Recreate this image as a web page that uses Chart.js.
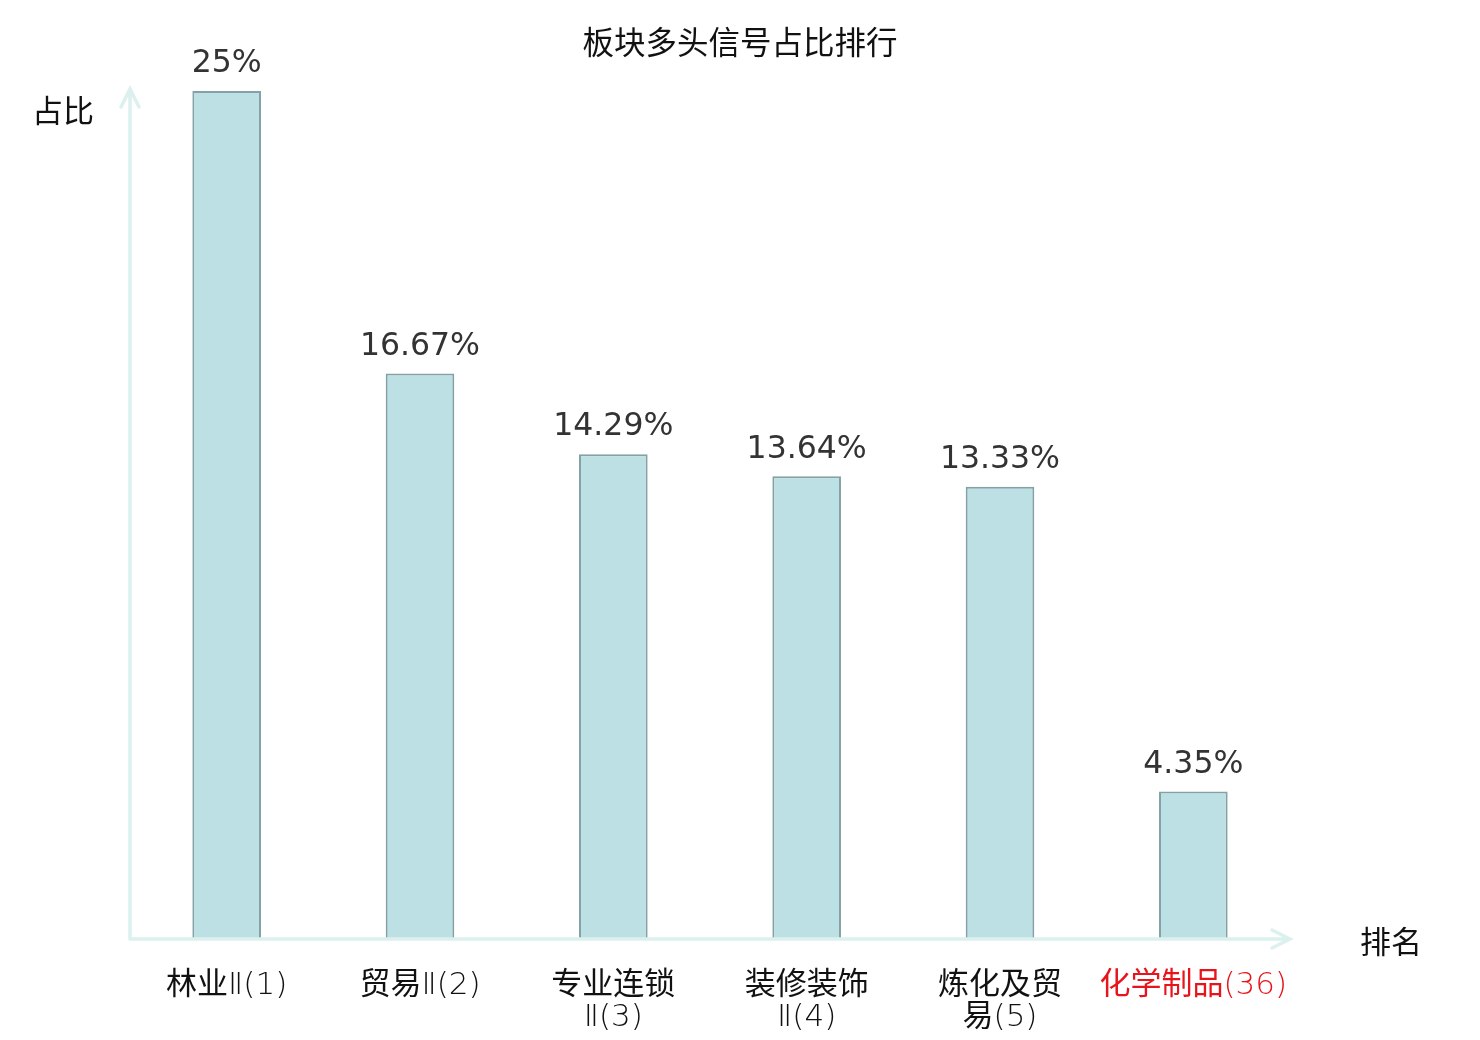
<!DOCTYPE html>
<html>
<head>
<meta charset="utf-8">
<script src="https://cdn.jsdelivr.net/npm/chart.js@4"></script>
<style>
	html, body { margin: 0; padding: 0; background: #fff; }
	#wrap { width: 1480px; height: 1040px; }
</style>
</head>
<body>
<div id="wrap"><canvas id="myChart" width="1480" height="1040"></canvas></div>
<script>
// ----------------------- data ----------------------------
var categories = [
	['林业Ⅱ(1)'],
	['贸易Ⅱ(2)'],
	['专业连锁', 'Ⅱ(3)'],
	['装修装饰', 'Ⅱ(4)'],
	['炼化及贸', '易(5)'],
	['化学制品(36)']
];
var values = [25, 16.67, 14.29, 13.64, 13.33, 4.35];
var valueLabels = ['25%', '16.67%', '14.29%', '13.64%', '13.33%', '4.35%'];
var highlightIndex = 5;

var cjk = '"Noto Sans CJK SC", "Noto Sans", sans-serif';
var latinLight = '200 31px "DejaVu Sans", sans-serif';
var cjkLabel = '31px ' + cjk;
var axisColor = '#dcf1ee';

// split a label into cjk / latin runs so each gets its own font
function runs(text){
	var out = [];
	for (var k = 0; k < text.length; k++) {
		var ch = text[k];
		var isCjk = /[\u4e00-\u9fff]/.test(ch);
		var last = out[out.length - 1];
		if (last && last.cjk === isCjk) last.t += ch;
		else out.push({ t: ch, cjk: isCjk });
	}
	return out;
}

function drawMixed(ctx, text, cx, baseline){
	var parts = runs(text);
	var total = 0;
	parts.forEach(function(p){
		ctx.font = p.cjk ? cjkLabel : latinLight;
		p.w = ctx.measureText(p.t).width;
		total += p.w;
	});
	var x = cx - total / 2;
	ctx.textAlign = 'left';
	ctx.textBaseline = 'alphabetic';
	parts.forEach(function(p){
		ctx.font = p.cjk ? cjkLabel : latinLight;
		ctx.fillText(p.t, x, baseline);
		x += p.w;
	});
	ctx.textAlign = 'center';
	ctx.textBaseline = 'middle';
}

// ----------------------- plugin: axes, arrows, texts ----------------------------
var decor = {
	id: 'decor',
	afterDatasetsDraw: function(chart){
		var ctx = chart.ctx;
		var area = chart.chartArea;
		var xs = chart.scales.x;
		ctx.save();

		// axes with arrows
		ctx.strokeStyle = axisColor;
		ctx.lineWidth = 3.5;
		ctx.lineCap = 'round';
		ctx.beginPath();
		ctx.moveTo(area.left, area.bottom);
		ctx.lineTo(area.left, area.top - 2);
		ctx.moveTo(area.left - 9, area.top + 16);
		ctx.lineTo(area.left, area.top - 2);
		ctx.lineTo(area.left + 9, area.top + 16);
		ctx.moveTo(area.left, area.bottom);
		ctx.lineTo(area.right, area.bottom);
		ctx.moveTo(area.right - 18, area.bottom - 9);
		ctx.lineTo(area.right, area.bottom);
		ctx.lineTo(area.right - 18, area.bottom + 9);
		ctx.stroke();

		// title and axis names
		ctx.fillStyle = '#111';
		ctx.textAlign = 'center';
		ctx.textBaseline = 'middle';
		ctx.font = '31.5px ' + cjk;
		ctx.fillText('板块多头信号占比排行', 740, 42);
		ctx.font = '31px ' + cjk;
		ctx.fillText('占比', 63, 110);
		ctx.fillText('排名', 1391, 941);

		// category labels
		categories.forEach(function(lines, i){
			var x = xs.getPixelForValue(i);
			ctx.fillStyle = (i === highlightIndex) ? '#e8141b' : '#111';
			lines.forEach(function(t, j){
				drawMixed(ctx, t, x, 994 + j * 32);
			});
		});

		// value labels
		ctx.fillStyle = '#333';
		ctx.font = '31.5px "DejaVu Sans", sans-serif';
		var meta = chart.getDatasetMeta(0);
		meta.data.forEach(function(bar, i){
			ctx.fillText(valueLabels[i], bar.x, bar.y - 27);
		});
		ctx.restore();
	}
};

// ----------------------- chart ----------------------------
var el = document.getElementById('myChart').getContext('2d');
var myChart = new Chart(el, {
	type: 'bar',
	data: {
		labels: categories.map(function(c){ return c.join(''); }),
		datasets: [{
			data: values,
			backgroundColor: '#bce0e3',
			borderColor: '#84a2a5',
			borderWidth: 2,
			barPercentage: 0.71,
			categoryPercentage: 0.5
		}]
	},
	options: {
		responsive: false,
		animation: false,
		layout: { padding: { left: 130, right: 190, top: 91, bottom: 101 } },
		plugins: {
			legend: { display: false },
			tooltip: { enabled: false },
			title: { display: false }
		},
		scales: {
			x: { display: false },
			y: { display: false, min: 0, max: 25 }
		}
	},
	plugins: [decor]
});
</script>
</body>
</html>
